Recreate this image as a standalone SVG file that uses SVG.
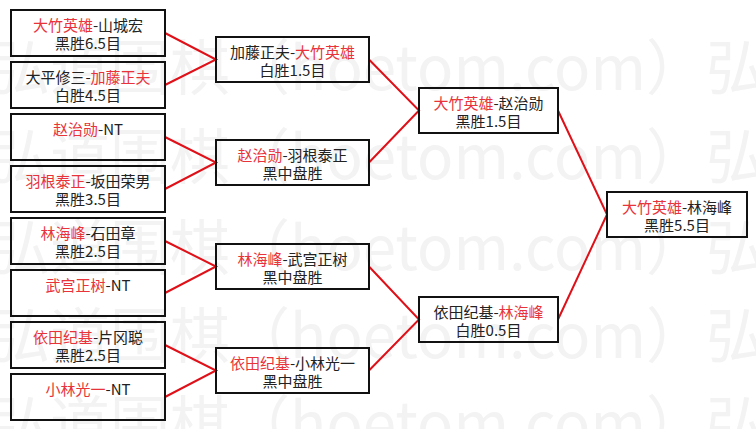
<svg xmlns="http://www.w3.org/2000/svg" width="756" height="429" viewBox="0 0 756 429">
<style>
  .wm { font-family: "Noto Sans CJK SC", sans-serif; font-size: 60px; fill: #f3f3f3; }
  .box { fill: none; stroke: #111; stroke-width: 2; }
  .t { font-family: "Noto Sans CJK SC", sans-serif; font-size: 15px; fill: #222; text-anchor: middle; }
  .r { fill: #e8333a; }
  .conn { fill: none; stroke: #e01018; stroke-width: 2; }
</style>
<rect width="756" height="429" fill="#ffffff"/>
<g id="watermark">
  <text class="wm" x="-10" y="90">弘道围棋（hoetom.com）弘道</text>
  <text class="wm" x="-10" y="179">弘道围棋（hoetom.com）弘道</text>
  <text class="wm" x="-10" y="270">弘道围棋（hoetom.com）弘道</text>
  <text class="wm" x="-10" y="358">弘道围棋（hoetom.com）弘道</text>
  <text class="wm" x="-10" y="446">弘道围棋（hoetom.com）弘道</text>
</g>
<g id="connectors">
  <polyline class="conn" points="165,33 216,59.5 165,85"/>
  <polyline class="conn" points="165,137 216,162.5 165,189"/>
  <polyline class="conn" points="165,241 216,266.5 165,293"/>
  <polyline class="conn" points="165,345 216,370.5 165,397"/>
  <polyline class="conn" points="369,59.5 419,110.5 369,162.5"/>
  <polyline class="conn" points="369,266.5 419,319.5 369,370.5"/>
  <polyline class="conn" points="558,110.5 607,214.5 558,319.5"/>
</g>
<g id="r1-1"><rect class="box" x="11" y="10" width="154" height="46"/>
  <text class="t" x="88" y="31"><tspan class="r">大竹英雄</tspan>-山城宏</text>
  <text class="t" x="88" y="49">黑胜6.5目</text></g>
<g id="r1-2"><rect class="box" x="11" y="62" width="154" height="46"/>
  <text class="t" x="88" y="83">大平修三-<tspan class="r">加藤正夫</tspan></text>
  <text class="t" x="88" y="101">白胜4.5目</text></g>
<g id="r1-3"><rect class="box" x="11" y="114" width="154" height="46"/>
  <text class="t" x="88" y="135"><tspan class="r">赵治勋</tspan>-NT</text></g>
<g id="r1-4"><rect class="box" x="11" y="166" width="154" height="46"/>
  <text class="t" x="88" y="187"><tspan class="r">羽根泰正</tspan>-坂田荣男</text>
  <text class="t" x="88" y="205">黑胜3.5目</text></g>
<g id="r1-5"><rect class="box" x="11" y="218" width="154" height="46"/>
  <text class="t" x="88" y="239"><tspan class="r">林海峰</tspan>-石田章</text>
  <text class="t" x="88" y="257">黑胜2.5目</text></g>
<g id="r1-6"><rect class="box" x="11" y="270" width="154" height="46"/>
  <text class="t" x="88" y="291"><tspan class="r">武宫正树</tspan>-NT</text></g>
<g id="r1-7"><rect class="box" x="11" y="322" width="154" height="46"/>
  <text class="t" x="88" y="343"><tspan class="r">依田纪基</tspan>-片冈聪</text>
  <text class="t" x="88" y="361">黑胜2.5目</text></g>
<g id="r1-8"><rect class="box" x="11" y="374" width="154" height="46"/>
  <text class="t" x="88" y="395"><tspan class="r">小林光一</tspan>-NT</text></g>
<g id="r2-1"><rect class="box" x="216" y="37" width="153" height="45"/>
  <text class="t" x="292.5" y="58">加藤正夫-<tspan class="r">大竹英雄</tspan></text>
  <text class="t" x="292.5" y="76">白胜1.5目</text></g>
<g id="r2-2"><rect class="box" x="216" y="140" width="153" height="45"/>
  <text class="t" x="292.5" y="161"><tspan class="r">赵治勋</tspan>-羽根泰正</text>
  <text class="t" x="292.5" y="179">黑中盘胜</text></g>
<g id="r2-3"><rect class="box" x="216" y="244" width="153" height="45"/>
  <text class="t" x="292.5" y="265"><tspan class="r">林海峰</tspan>-武宫正树</text>
  <text class="t" x="292.5" y="283">黑中盘胜</text></g>
<g id="r2-4"><rect class="box" x="216" y="348" width="153" height="45"/>
  <text class="t" x="292.5" y="369"><tspan class="r">依田纪基</tspan>-小林光一</text>
  <text class="t" x="292.5" y="387">黑中盘胜</text></g>
<g id="r3-1"><rect class="box" x="419" y="88" width="139" height="45"/>
  <text class="t" x="488.5" y="109"><tspan class="r">大竹英雄</tspan>-赵治勋</text>
  <text class="t" x="488.5" y="127">黑胜1.5目</text></g>
<g id="r3-2"><rect class="box" x="419" y="297" width="139" height="45"/>
  <text class="t" x="488.5" y="318">依田纪基-<tspan class="r">林海峰</tspan></text>
  <text class="t" x="488.5" y="336">白胜0.5目</text></g>
<g id="final"><rect class="box" x="607" y="192" width="140" height="45"/>
  <text class="t" x="677" y="213"><tspan class="r">大竹英雄</tspan>-林海峰</text>
  <text class="t" x="677" y="231">黑胜5.5目</text></g>
</svg>
